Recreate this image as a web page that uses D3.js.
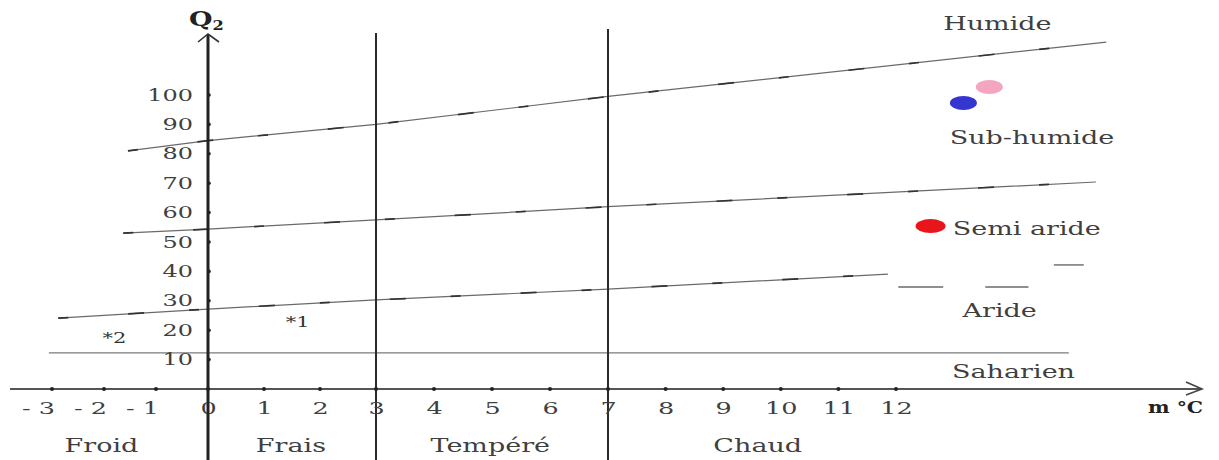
<!DOCTYPE html>
<html>
<head>
<meta charset="utf-8">
<script src="https://cdn.jsdelivr.net/npm/d3@7/dist/d3.min.js"></script>
<style>
  body { margin: 0; background: #fff; }
  text { font-family: "DejaVu Serif", serif; fill: #3f3f3f; }
</style>
</head>
<body>
<div id="chart"></div>
<script>
var tempTicks = [-3, -2, -1, 0, 1, 2, 3, 4, 5, 6, 7, 8, 9, 10, 11, 12];
var q2Ticks = [10, 20, 30, 40, 50, 60, 70, 80, 90, 100];
var thermalLimits = [3, 7];

// étages thermiques (libellé, m au centre du libellé)
var thermalNames = ["Froid", "Frais", "Tempéré", "Chaud"];
var thermalAt = [-2.05, 1.48, 4.97, 9.6];

// étages bioclimatiques (libellé, m, Q2)
var bioNames = ["Humide", "Sub-humide", "Semi aride", "Aride", "Saharien"];
var bioM = [13.76, 14.36, 14.27, 13.8, 14.04];
var bioQ2 = [122, 83.5, 52.3, 24.5, 3.7];

// limites entre étages [m, Q2]
var limitHumide = [[-1.54, 81], [0, 84.5], [3, 90], [7, 99.5], [15.65, 118]];
var limitSemiAride = [[-1.63, 53], [0, 54.4], [3, 57.5], [7, 62], [15.47, 70.4]];
var limitAride = [[-2.88, 24.1], [0, 27.2], [3, 30.3], [7, 34], [11.86, 39.1]];
var limitAridePieces = [
  [[12.04, 34.7], [12.82, 34.7]],
  [[13.55, 34.7], [14.3, 34.7]],
  [[14.74, 42.2], [15.26, 42.2]]
];
var limitSaharien = [[-3.06, 12.3], [15, 12.3]];

// stations
var stationNames = ["a", "b", "c"];
var stationM = [13.62, 13.17, 12.6];
var stationQ2 = [102.7, 97.3, 55.4];
var stationColors = ["#f4a5c0", "#3535d0", "#e8161b"];

var markNames = ["*1", "*2"];
var markM = [1.6, -1.8];
var markQ2 = [21.2, 15.8];

var W = 1219, H = 460;
var SX = 1.5; // le dessin d'origine est étiré en largeur

var svg = d3.select("#chart").append("svg")
  .attr("width", W).attr("height", H);

// échelle en morceaux : la graduation du dessin n'est pas tout à fait régulière
var x = d3.scaleLinear().domain([-3, 0, 3, 7, 12]).range([52, 208, 376, 608, 896]);
var y = d3.scaleLinear().domain([0, 100]).range([389, 95]);

var line = d3.line().x(function(d){ return x(d[0]); }).y(function(d){ return y(d[1]); });

// texte étiré horizontalement
function wideText(parent, px, py, txt, size){
  return parent.append("text")
    .attr("transform", "translate(" + px + "," + py + ") scale(" + SX + ",1)")
    .attr("text-anchor", "middle")
    .style("font-size", size + "px")
    .text(txt);
}

// limites bioclimatiques
var g = svg.append("g");
[limitHumide, limitSemiAride, limitAride].forEach(function(l){
  g.append("path").attr("d", line(l)).attr("fill", "none")
    .attr("stroke", "#6a6a6a").attr("stroke-width", 1.2);
  g.append("path").attr("d", line(l)).attr("fill", "none")
    .attr("stroke", "#333").attr("stroke-width", 1.7)
    .attr("stroke-dasharray", "10 60 16 45");
});
limitAridePieces.forEach(function(l){
  g.append("path").attr("d", line(l)).attr("fill", "none")
    .attr("stroke", "#6a6a6a").attr("stroke-width", 1.4);
});
g.append("path").attr("d", line(limitSaharien)).attr("fill", "none")
  .attr("stroke", "#7a7a7a").attr("stroke-width", 1.2);

// verticales des étages thermiques
thermalLimits.forEach(function(t, i){
  svg.append("line").attr("x1", x(t)).attr("x2", x(t))
    .attr("y1", i == 0 ? 33 : 29).attr("y2", H)
    .attr("stroke", "#2a2a2a").attr("stroke-width", 2);
});

// axe des m
svg.append("line").attr("x1", 10).attr("x2", 1202)
  .attr("y1", y(0)).attr("y2", y(0))
  .attr("stroke", "#555").attr("stroke-width", 2);
svg.append("polyline").attr("points", "1186,382 1202,389 1186,395")
  .attr("fill", "none").attr("stroke", "#444").attr("stroke-width", 1.6);

var xAxis = d3.axisBottom(x).tickValues(tempTicks).tickSize(0).tickPadding(0)
  .tickFormat(function(d){ return d < 0 ? "- " + (-d) : d; });
var gx = svg.append("g").attr("transform", "translate(0," + y(0) + ")").call(xAxis);
gx.select(".domain").remove();
gx.selectAll("text")
  .attr("dy", null).attr("y", 25)
  .attr("x", function(d){ return d < 0 ? -14 / SX : 0; })
  .attr("transform", "scale(" + SX + ",1)")
  .attr("text-anchor", "middle")
  .style("font-family", "DejaVu Serif").style("font-size", "17px")
  .style("fill", "#3f3f3f");
svg.selectAll(".xdot").data(tempTicks).enter().append("circle")
  .attr("cx", function(d){ return x(d); }).attr("cy", y(0)).attr("r", 2)
  .attr("fill", "#222");

// axe des Q2
svg.append("line").attr("x1", x(0)).attr("x2", x(0))
  .attr("y1", 35).attr("y2", H)
  .attr("stroke", "#222").attr("stroke-width", 3);
svg.append("polyline").attr("points", "198,42 208,34 219,42")
  .attr("fill", "none").attr("stroke", "#333").attr("stroke-width", 1.6);

var yAxis = d3.axisLeft(y).tickValues(q2Ticks).tickSize(0);
var gy = svg.append("g").attr("transform", "translate(" + x(0) + ",0)").call(yAxis);
gy.select(".domain").remove();
gy.selectAll("text")
  .attr("x", -15 / SX)
  .attr("transform", "scale(" + SX + ",1)")
  .style("font-family", "DejaVu Serif").style("font-size", "16px")
  .style("fill", "#3f3f3f");
svg.selectAll(".ydot").data(q2Ticks).enter().append("circle")
  .attr("cx", x(0) + 1).attr("cy", function(d){ return y(d); }).attr("r", 1.8)
  .attr("fill", "#222");

// titres des axes
var q = svg.append("text")
  .attr("transform", "translate(189,26) scale(1.35,1)")
  .style("font-size", "20px").style("font-weight", "bold").style("fill", "#222");
q.append("tspan").text("Q");
q.append("tspan").attr("dy", 4).style("font-size", "12px").text("2");

svg.append("text")
  .attr("transform", "translate(1148,413) scale(1.2,1)")
  .style("font-size", "17px").style("font-weight", "bold").style("fill", "#222")
  .text("m °C");

// étages thermiques
thermalNames.forEach(function(d, i){
  wideText(svg, x(thermalAt[i]), 452, d, 18);
});

// étages bioclimatiques
bioNames.forEach(function(d, i){
  wideText(svg, x(bioM[i]), y(bioQ2[i]), d, 18);
});

// stations
svg.selectAll(".station").data(stationNames).enter().append("ellipse")
  .attr("cx", function(d, i){ return x(stationM[i]); })
  .attr("cy", function(d, i){ return y(stationQ2[i]); })
  .attr("rx", function(d, i){ return i == 2 ? 15 : 13.5; })
  .attr("ry", 7)
  .attr("fill", function(d, i){ return stationColors[i]; });

markNames.forEach(function(d, i){
  wideText(svg, x(markM[i]), y(markQ2[i]), d, 14).style("fill", "#333");
});
</script>
</body>
</html>
